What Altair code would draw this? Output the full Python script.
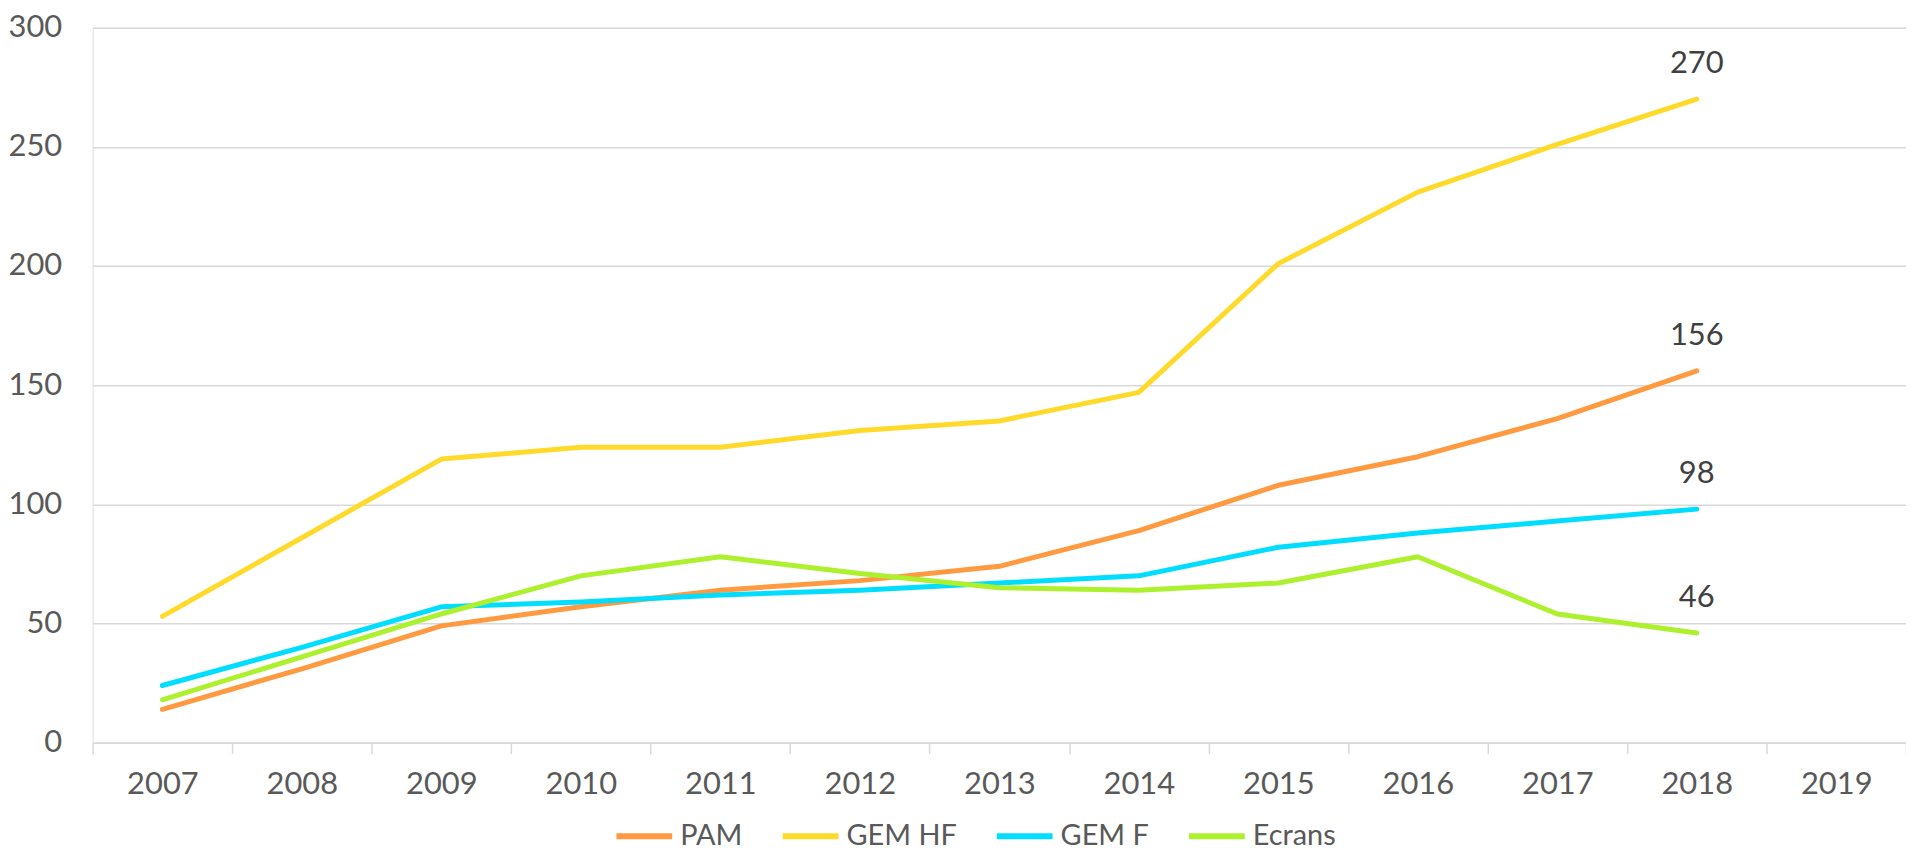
import altair as alt
import pandas as pd

years = [str(y) for y in range(2007, 2020)]
data_years = years[:12]
pam = [14, 31, 49, 57, 64, 68, 74, 89, 108, 120, 136, 156]
gem_hf = [53, 86, 119, 124, 124, 131, 135, 147, 201, 231, 251, 270]
gem_f = [24, 40, 57, 59, 62, 64, 67, 70, 82, 88, 93, 98]
ecrans = [18, 36, 54, 70, 78, 71, 65, 64, 67, 78, 54, 46]
series_names = ["PAM", "GEM HF", "GEM F", "Ecrans"]
series_colors = ["#FF9A40", "#FFDA2B", "#00DDFF", "#ADF02E"]
y_ticks = [0, 50, 100, 150, 200, 250, 300]

series_values = [pam, gem_hf, gem_f, ecrans]
rows = []
for name, vals in zip(series_names, series_values):
    for yr, v in zip(data_years, vals):
        rows.append({"year": yr, "value": v, "series": name})
df = pd.DataFrame(rows)
labels_df = pd.DataFrame(
    [{"year": data_years[-1], "value": vals[-1], "series": name}
     for name, vals in zip(series_names, series_values)]
)

FONT = "Lato"
FS = 31
TXT = "#595959"
GRID = "#D9D9D9"

x_scale = alt.Scale(type="band", domain=years, paddingInner=0, paddingOuter=0)

x_enc = alt.X(
    "year:O",
    scale=x_scale,
    bandPosition=0.5,
    axis=alt.Axis(
        title=None, labelAngle=0, tickBand="extent", ticks=True, tickSize=11,
        tickColor=GRID, tickWidth=1.5, domainColor=GRID, domainWidth=1.5,
        labelPadding=16, labelFontSize=FS, labelColor=TXT, labelFont=FONT, grid=False,
    ),
)
y_enc = alt.Y(
    "value:Q",
    scale=alt.Scale(domain=[0, 300], nice=False),
    axis=alt.Axis(
        title=None, values=y_ticks, domain=False, ticks=False, gridColor=GRID,
        gridWidth=1.5, labelPadding=31, labelFontSize=FS, labelColor=TXT, labelFont=FONT,
    ),
)
color_enc = alt.Color(
    "series:N",
    scale=alt.Scale(domain=series_names, range=series_colors),
    sort=series_names,
    legend=alt.Legend(
        orient="none", legendX=523, legendY=781, direction="horizontal",
        title=None, symbolType="stroke", symbolStrokeWidth=6, symbolSize=3136,
        labelFontSize=29, labelColor=TXT, labelFont=FONT, columnPadding=28, labelOffset=5,
    ),
)

lines = alt.Chart(df).mark_line(strokeWidth=5, strokeCap="round", strokeJoin="round").encode(
    x=x_enc, y=y_enc, color=color_enc, detail="series:N"
)
texts = alt.Chart(labels_df).mark_text(
    dy=-35, fontSize=FS, color="#404040", font=FONT
).encode(
    x=alt.X("year:O", scale=x_scale, bandPosition=0.5),
    y=alt.Y("value:Q"),
    text=alt.Text("value:Q"),
)

chart = alt.layer(lines, texts).properties(
    width=1821, height=718,
    autosize=alt.AutoSizeParams(type="none"),
    padding={"left": 85, "top": 18, "right": 0, "bottom": 110},
).configure_view(stroke=None).configure(background="white")

chart.save("out.html", embed_options={"renderer": "svg", "actions": False})
